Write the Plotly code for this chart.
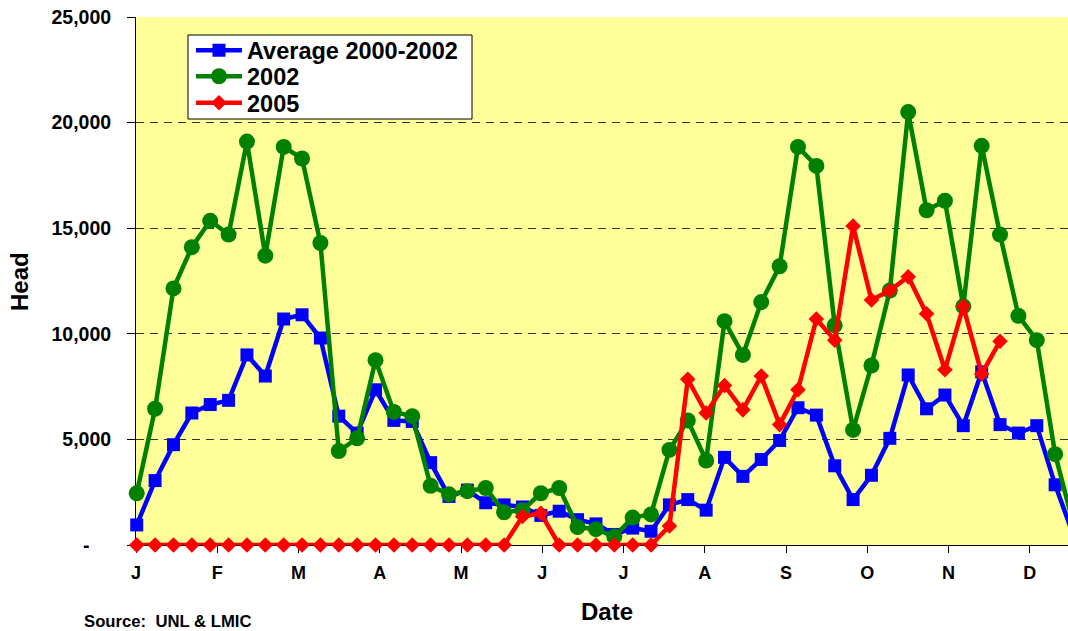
import plotly.graph_objects as go

# ---- data (weekly, 52 weeks) ----
weeks = list(range(52))
avg_2000_2002 = [950, 3050, 4750, 6250, 6650, 6850, 9000, 8000, 10700, 10900,
                 9800, 6100, 5300, 7350, 5900, 5850, 3900, 2300, 2600, 2000,
                 1900, 1800, 1400, 1600, 1200, 1000, 500, 800, 650, 1900,
                 2150, 1650, 4150, 3250, 4050, 4950, 6500, 6150, 3750, 2150,
                 3300, 5050, 8050, 6450, 7100, 5650, 8200, 5700, 5300, 5650,
                 2850, 450]
y2002 = [2450, 6450, 12150, 14100, 15350, 14700, 19100, 13700, 18850, 18300,
         14300, 4450, 5050, 8750, 6300, 6100, 2800, 2400, 2550, 2700,
         1550, 1650, 2450, 2700, 850, 750, 400, 1300, 1450, 4500,
         5900, 4000, 10600, 9000, 11500, 13200, 18850, 17950, 10400, 5450,
         8500, 12050, 20500, 15850, 16300, 11300, 18900, 14700, 10850, 9700,
         4300, 950]
y2005 = [0, 0, 0, 0, 0, 0, 0, 0, 0, 0,
         0, 0, 0, 0, 0, 0, 0, 0, 0, 0,
         0, 1350, 1500, 0, 0, 0, 0, 0, 0, 900,
         7850, 6250, 7550, 6400, 8000, 5700, 7350, 10700, 9700, 15100,
         11600, 12050, 12700, 10950, 8300, 11300, 8100, 9650, None, None,
         None, None]

month_labels = ["J", "F", "M", "A", "M", "J", "J", "A", "S", "O", "N", "D"]
weeks_per_month = 4.424
month_ticks = [m * weeks_per_month - 0.04 for m in range(12)]

y_ticks = [0, 5000, 10000, 15000, 20000, 25000]
y_ticktext = ["-\u00a0\u00a0\u00a0\u00a0", "5,000", "10,000", "15,000", "20,000", "25,000"]

FONT = "Liberation Sans, Arial, sans-serif"

# pixel -> paper helpers (plot area: x 136..1068, y 17..545)
def px(x):
    return (x - 136) / 932

def py(y):
    return (545 - y) / 528

fig = go.Figure()
fig.add_trace(go.Scatter(
    x=weeks, y=avg_2000_2002, name="Average 2000-2002", mode="lines+markers",
    line=dict(color="#0000FF", width=4.5),
    marker=dict(symbol="square", size=13, color="#0000FF"),
    cliponaxis=False, legend="legend"))
fig.add_trace(go.Scatter(
    x=weeks, y=y2002, name="2002", mode="lines+markers",
    line=dict(color="#008000", width=4.5),
    marker=dict(symbol="circle", size=16, color="#008000"),
    cliponaxis=False, legend="legend2"))
fig.add_trace(go.Scatter(
    x=weeks, y=y2005, name="2005", mode="lines+markers",
    line=dict(color="#FF0000", width=4.5),
    marker=dict(symbol="diamond", size=12, color="#FF0000"),
    cliponaxis=False, connectgaps=False, legend="legend3"))

legend_font = dict(family=FONT, size=23.5, color="black", weight="bold")
def leg(ycenter):
    return dict(x=px(191), y=py(ycenter), xanchor="left", yanchor="middle",
                bgcolor="rgba(0,0,0,0)", borderwidth=0,
                font=legend_font, itemwidth=46)

fig.update_layout(
    width=1068, height=631,
    margin=dict(l=136, r=0, t=17, b=86),
    paper_bgcolor="white",
    plot_bgcolor="#FFFF99",
    font=dict(family=FONT, color="black"),
    showlegend=True,
    legend=leg(50.5),
    legend2=leg(76.5),
    legend3=leg(103),
    shapes=[
        dict(type="rect", xref="paper", yref="paper",
             x0=px(188), x1=px(472), y0=py(119), y1=py(35),
             fillcolor="white", line=dict(color="black", width=1), layer="above"),
    ],
    xaxis=dict(
        range=[-0.04, 50.70],
        tickmode="array", tickvals=month_ticks, ticktext=month_labels,
        tickfont=dict(family=FONT, size=18, color="black", weight="bold"),
        ticks="outside", ticklen=7, tickcolor="black", tickwidth=1,
        ticklabelstandoff=4,
        showline=True, linecolor="black", linewidth=1,
        showgrid=False, zeroline=False, layer="below traces",
    ),
    yaxis=dict(
        range=[0, 25000],
        tickmode="array", tickvals=y_ticks, ticktext=y_ticktext,
        tickfont=dict(family=FONT, size=19.5, color="black", weight="bold"),
        ticks="outside", ticklen=8, tickcolor="black", tickwidth=1,
        ticklabelstandoff=12,
        showline=True, linecolor="black", linewidth=1,
        showgrid=True, gridcolor="#333333", gridwidth=1, griddash="8px,6px",
        zeroline=False, layer="below traces",
    ),
    annotations=[
        dict(text="Head", xref="paper", yref="paper",
             x=px(19), y=py(281), xanchor="center", yanchor="middle",
             textangle=-90, showarrow=False,
             font=dict(family=FONT, size=24, color="black", weight="bold")),
        dict(text="Date", xref="paper", yref="paper",
             x=px(607), y=py(611), xanchor="center", yanchor="middle",
             showarrow=False,
             font=dict(family=FONT, size=24, color="black", weight="bold")),
        dict(text="Source:\u00a0\u00a0UNL &amp; LMIC", xref="paper", yref="paper",
             x=px(82), y=py(621), xanchor="left", yanchor="middle",
             showarrow=False,
             font=dict(family=FONT, size=16.7, color="black", weight="bold")),
    ],
)

fig.write_html(
    "out.html",
    config=dict(displayModeBar=False),
    post_script="document.body.style.margin='0';document.body.style.padding='0';"
                "document.body.style.overflow='hidden';",
)
